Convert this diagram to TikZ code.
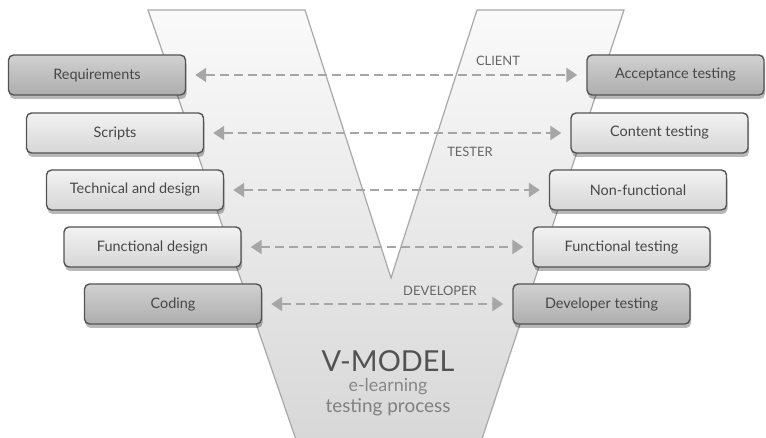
\documentclass[tikz,border=0pt]{standalone}
\usepackage{fontspec}
\setmainfont{Lato}
\usetikzlibrary{shadows,arrows.meta}
\definecolor{boxline}{HTML}{545454}
\definecolor{boxtext}{HTML}{474747}
\definecolor{vline}{HTML}{A8A8A8}
\definecolor{arrowgray}{HTML}{A6A6A6}
\definecolor{rolegray}{HTML}{666666}
\tikzset{
  phase/.style={draw=boxline, line width=1.4bp, rounded corners=5bp,
    minimum width=177bp, minimum height=40bp, inner sep=0pt,
    text=boxtext, font=\fontsize{14.5}{16}\selectfont,
    drop shadow={shadow xshift=1bp, shadow yshift=-4bp, opacity=0.28, fill=black}},
  lightbox/.style={phase, top color=white!95!black, bottom color=white!84!black},
  darkbox/.style={phase, top color=white!82!black, bottom color=white!68!black},
  link/.style={draw=arrowgray, line width=2.2bp, dash pattern=on 9bp off 5bp,
    {Triangle[length=11bp,width=14bp]}-{Triangle[length=11bp,width=14bp]},
    shorten <=9bp, shorten >=9bp},
  role/.style={text=rolegray, font=\fontsize{13}{15}\selectfont, inner sep=0pt}
}
\begin{document}
\begin{tikzpicture}[x=1bp,y=-1bp]
\useasboundingbox (0,0) rectangle (766,438);
\fill[white] (0,0) rectangle (766,438);

% the V band
\begin{scope}
  \clip (0,0) rectangle (766,438);
  \draw[vline, line width=1.2bp, top color=white!98!black, bottom color=white!84!black]
    (148,10) -- (305,10) -- (391,278) -- (477,10) -- (624,10)
    -- (475,460) -- (303,460) -- cycle;
\end{scope}

% development phases (left) and test phases (right)
\node[darkbox]  (req)  at (97,75)   {Requirements};
\node[lightbox] (scr)  at (115,133) {Scripts};
\node[lightbox] (tech) at (135,190) {Technical and design};
\node[lightbox] (fdes) at (152.5,247) {Functional design};
\node[darkbox]  (code) at (173,304) {Coding};

\node[darkbox]  (acc)  at (675.5,75)  {Acceptance testing};
\node[lightbox] (cont) at (659.5,133) {Content testing};
\node[lightbox] (nonf) at (638,190)   {Non-functional};
\node[lightbox] (ftest) at (621.5,247) {Functional testing};
\node[darkbox]  (dev)  at (601.5,304) {Developer testing};

% links between matching phases
\draw[link] (req.east)  -- (acc.west);
\draw[link] (scr.east)  -- (cont.west);
\draw[link] (tech.east) -- (nonf.west);
\draw[link] (fdes.east) -- (ftest.west);
\draw[link] (code.east) -- (dev.west);

% roles
\node[role] (client) at (498,61)  {CLIENT};
\node[role] (tester) at (470,152) {TESTER};
\node[role] (developer) at (440,291) {DEVELOPER};

% title
\node[text=black!68, font=\fontsize{29}{31}\selectfont, inner sep=0pt] (title) at (388,361) {V-MODEL};
\node[text=black!47, font=\fontsize{18}{20}\selectfont, inner sep=0pt] (sub1) at (388,387) {e-learning};
\node[text=black!50, font=\fontsize{19}{21}\selectfont, inner sep=0pt] (sub2) at (388,407) {testing process};
\end{tikzpicture}
\end{document}
